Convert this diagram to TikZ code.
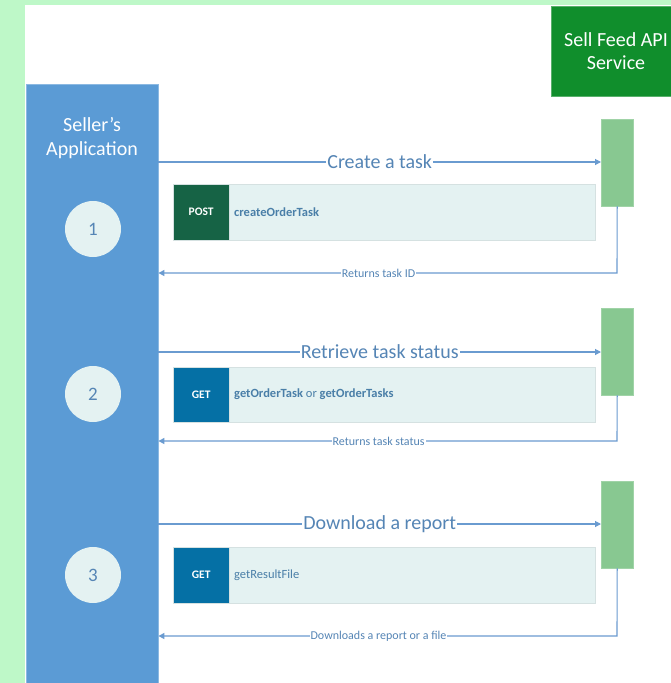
\documentclass[tikz,border=0pt]{standalone}
\usepackage{fontspec}
\setmainfont{Carlito}
\usetikzlibrary{arrows.meta}
\definecolor{bgg}{HTML}{BEF8C8}
\definecolor{appblue}{HTML}{5B9BD5}
\definecolor{svcgreen}{HTML}{108E2C}
\definecolor{bargreen}{HTML}{88C891}
\definecolor{linec}{HTML}{6A9BD0}
\definecolor{txtc}{HTML}{5585B5}
\definecolor{lightbox}{HTML}{E4F2F2}
\definecolor{postc}{HTML}{166345}
\definecolor{getc}{HTML}{0570A5}
\definecolor{codec}{HTML}{4A7FA8}
\tikzset{
  bar/.style={fill=bargreen, draw=bargreen!80!white, minimum width=32pt, inner sep=0pt},
  msg/.style={draw=linec, line width=1.1pt, -{Triangle[length=6pt,width=6pt]}},
  msglbl/.style={fill=white, text=txtc, font=\fontsize{20}{22}\selectfont, inner sep=1pt},
  retlbl/.style={fill=white, text=txtc, font=\fontsize{12}{14}\selectfont, inner sep=1pt, pos=0.52},
  reqbox/.style={fill=lightbox, draw=lightbox!85!gray, inner sep=0pt, anchor=north west},
  methbox/.style={draw=lightbox!85!gray, inner sep=0pt, text=white, font=\bfseries\fontsize{11.5}{13}\selectfont, anchor=north west, minimum width=56pt},
  code/.style={text=codec, font=\bfseries\fontsize{12.5}{14}\selectfont, anchor=west, inner sep=0pt},
  stepnum/.style={circle, fill=lightbox, minimum size=56pt, inner sep=0pt, text=txtc, font=\fontsize{19}{21}\selectfont},
}
\begin{document}
\begin{tikzpicture}[x=1pt,y=-1pt]
\useasboundingbox (0,0) rectangle (671,683);
\fill[bgg] (0,0) rectangle (671,683);
\fill[white] (25,5) rectangle (671,683);
% Seller's application column
\node[fill=appblue, draw=appblue!70!white, anchor=north west, minimum width=132pt, minimum height=599pt, inner sep=0pt] (app) at (26,84) {};
\node[text=white, align=center, font=\fontsize{20}{24}\selectfont] (apptitle) at (92,138) {Seller’s\\Application};
% Service header
\node[fill=svcgreen, draw=svcgreen!70!white, anchor=north west, minimum width=122pt, minimum height=90pt, inner sep=0pt] (svc) at (551,6) {};
\node[text=white, align=center, font=\fontsize{20}{23}\selectfont] (svctitle) at (616,51) {Sell Feed API\\Service};
% activation bars
\node[bar, anchor=north west, minimum height=87pt] (b1) at (601,119) {};
\node[bar, anchor=north west, minimum height=87pt] (b2) at (601,308) {};
\node[bar, anchor=north west, minimum height=87pt] (b3) at (601,481) {};
% circles
\node[stepnum] (c1) at (93,229) {1};
\node[stepnum] (c2) at (93,394) {2};
\node[stepnum] (c3) at (93,575) {3};
% request boxes
\node[reqbox, minimum width=422pt, minimum height=56pt] (r1) at (173,184) {};
\node[methbox, fill=postc, minimum height=56pt] (m1) at (173,184) {POST};
\node[code] (t1) at (234,212) {createOrderTask};
\node[reqbox, minimum width=422pt, minimum height=55pt] (r2) at (173,367) {};
\node[methbox, fill=getc, minimum height=55pt] (m2) at (173,367) {GET};
\node[code] (t2) at (234,394) {getOrderTask \mdseries or \bfseries getOrderTasks};
\node[reqbox, minimum width=422pt, minimum height=56pt] (r3) at (173,547) {};
\node[methbox, fill=getc, minimum height=56pt] (m3) at (173,547) {GET};
\node[code, font=\fontsize{12.5}{14}\selectfont] (t3) at (234,575) {getResultFile};
% coordinates for returns
\coordinate (d1) at (617,273);
\coordinate (d2) at (617,441);
\coordinate (d3) at (617,636);
% messages
\draw[msg] (app.east |- 0,162) -- node[msglbl] {Create a task} (b1.west |- 0,162);
\draw[msg] (b1.south) -- (d1) -- node[retlbl] {Returns task ID} (app.east |- d1);
\draw[msg] (app.east |- 0,352) -- node[msglbl] {Retrieve task status} (b2.west |- 0,352);
\draw[msg] (b2.south) -- (d2) -- node[retlbl] {Returns task status} (app.east |- d2);
\draw[msg] (app.east |- 0,524) -- node[msglbl] {Download a report} (b3.west |- 0,524);
\draw[msg] (b3.south) -- (d3) -- node[retlbl] {Downloads a report or a file} (app.east |- d3);
\end{tikzpicture}
\end{document}
